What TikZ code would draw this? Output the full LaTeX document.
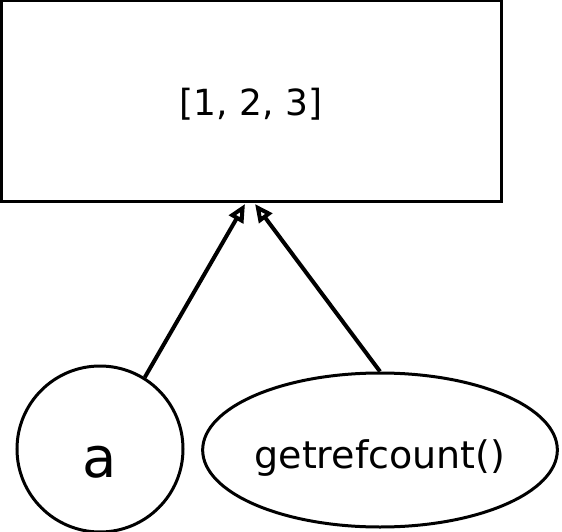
\documentclass[tikz,border=0pt]{standalone}
\usepackage{fontspec}
\setmainfont{DejaVu Sans}
\usetikzlibrary{shapes.geometric}
\usetikzlibrary{arrows.meta}

\begin{document}
\begin{tikzpicture}[
            x=1pt,y=-1pt,
            list node/.style={rectangle,draw,line width=3pt,inner sep=0pt,minimum width=500pt,minimum height=200pt,font=\fontsize{36}{40}\selectfont,text height=30pt,text depth=0pt},
            name node/.style={circle,draw,line width=3pt,inner sep=0pt,minimum size=166pt,font=\fontsize{56}{60}\selectfont,text height=56pt,text depth=0pt},
            call node/.style={ellipse,draw,line width=3pt,inner sep=0pt,minimum width=354pt,minimum height=154pt,font=\fontsize{38}{42}\selectfont,text height=36pt,text depth=0pt},
            ref arrow/.style={line width=4pt,-{Triangle[open,length=18pt,width=16pt]}},
            ]
            \useasboundingbox (0,0) rectangle (562,532);

            \node[list node] (list) at (251,101) {[1, 2, 3]};
            \node[name node] (a) at (100,449) {a};
            \node[call node] (count) at (380,450) {getrefcount()};

            \coordinate (in1) at (245,204);
            \coordinate (in2) at (255,204);
            \draw[ref arrow] (a.58) -- (in1);
            \draw[ref arrow] (count.north) -- (in2);
        \end{tikzpicture}
\end{document}
